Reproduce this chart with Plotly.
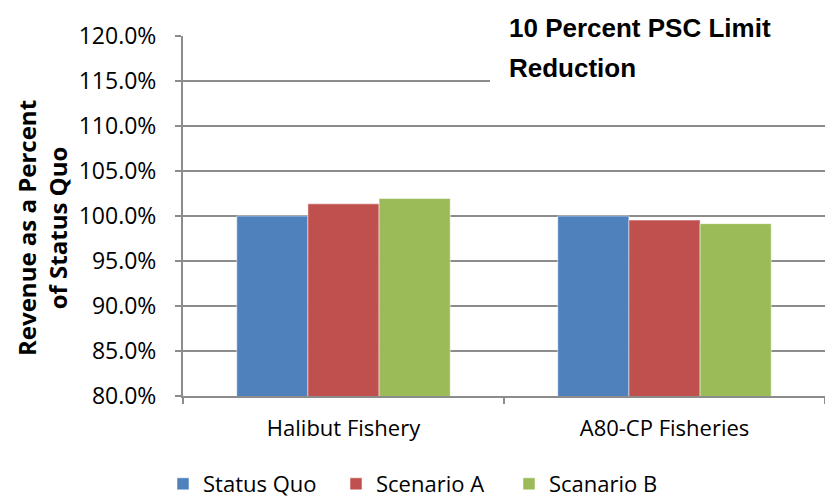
import plotly.graph_objects as go

categories = ["Halibut Fishery", "A80-CP Fisheries"]
series_names = ["Status Quo", "Scenario A", "Scanario B"]
status_quo = [100.0, 100.0]
scenario_a = [101.35, 99.55]
scenario_b = [101.95, 99.15]
colors = ["#4F81BD", "#C0504D", "#9BBB59"]
tick_vals = [80, 85, 90, 95, 100, 105, 110, 115, 120]
tick_text = [f"{v:.1f}%" for v in tick_vals]

font_main = "'Open Sans', Lato, sans-serif"

L, R, T, B = 183, 0, 36, 102
W, H = 825, 498
PW, PH = W - L - R, H - T - B

fig = go.Figure()
for name, vals, c in zip(series_names, [status_quo, scenario_a, scenario_b], colors):
    fig.add_trace(go.Bar(
        x=categories, y=vals, name=name, marker_color=c,
        marker_line=dict(color="rgba(255,255,255,0.5)", width=1),
    ))

fig.update_layout(
    width=W, height=H,
    paper_bgcolor="white", plot_bgcolor="white",
    margin=dict(l=L, r=R, t=T, b=B, autoexpand=False),
    barmode="group", bargap=0.335, bargroupgap=0,
    font=dict(family=font_main, color="#000000", size=23),
    showlegend=True,
    legend=dict(orientation="h", x=(163 - L) / PW, xanchor="left",
                y=-(463 - (H - B)) / PH, yanchor="top",
                font=dict(size=22, family=font_main),
                entrywidth=128, entrywidthmode="pixels",
                itemwidth=30, tracegroupgap=0),
    xaxis=dict(
        automargin=False,
        showline=True, linecolor="#8C8C8C", linewidth=2,
        ticks="outside", tickson="boundaries", ticklen=6, tickcolor="#8C8C8C", tickwidth=2,
        tickfont=dict(size=22, family=font_main),
        ticklabelstandoff=12,
        showgrid=False,
    ),
    yaxis=dict(
        automargin=False,
        range=[80, 120], tickvals=tick_vals, ticktext=tick_text,
        showline=True, linecolor="#8C8C8C", linewidth=2,
        ticks="outside", ticklen=6, tickcolor="#8C8C8C", tickwidth=2,
        showgrid=True, gridcolor="#8C8C8C", gridwidth=2,
        tickfont=dict(size=23, family=font_main),
        ticklabelstandoff=14,
        zeroline=False,
    ),
)

# white box behind the title (hides gridlines there)
fig.add_shape(type="rect", xref="paper", yref="paper",
              x0=(490 - L) / PW, x1=1.01, y0=(H - B - 100) / PH, y1=1.2,
              fillcolor="white", line_width=0, layer="above")

title_font = dict(family="'Liberation Sans', Arial, sans-serif", size=26, color="black")
for txt, ypix in [("<b>10 Percent PSC Limit</b>", 28), ("<b>Reduction</b>", 68)]:
    fig.add_annotation(
        xref="paper", yref="paper", x=(507 - L) / PW, y=(H - B - ypix) / PH,
        xanchor="left", yanchor="middle", text=txt, showarrow=False,
        font=title_font,
    )

fig.add_annotation(
    xref="paper", yref="paper", x=(42 - L) / PW, y=(H - B - 228) / PH,
    xanchor="center", yanchor="middle", textangle=-90,
    text="<b>Revenue as a Percent<br>of Status Quo</b>", showarrow=False,
    font=dict(family=font_main, size=24, color="black"),
)

fig.write_html("out.html", config={"displayModeBar": False},
               post_script="document.body.style.margin='0px';")
